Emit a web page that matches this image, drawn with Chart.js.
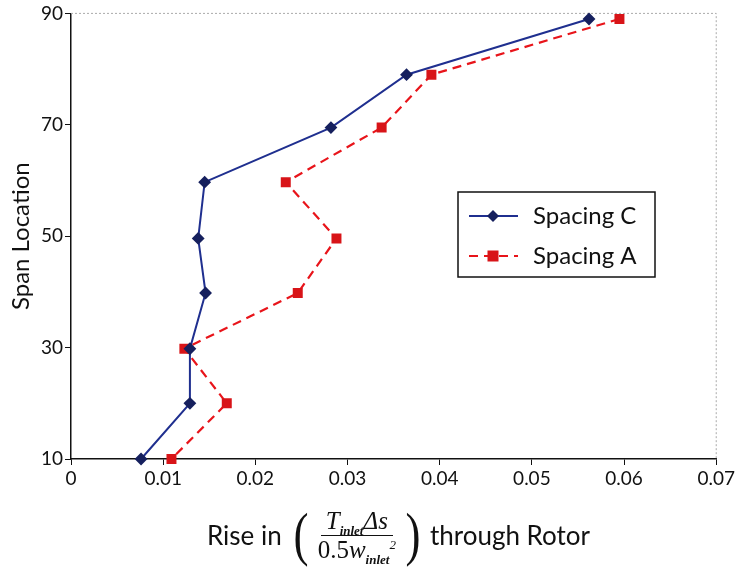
<!DOCTYPE html>
<html>
<head>
<meta charset="utf-8">
<script src="https://cdn.jsdelivr.net/npm/chart.js@4"></script>
<style>
  body { margin: 0; background: #fff; }
  #wrap { position: relative; width: 737px; height: 571px; }
  #xtitle {
    position: absolute; left: 60px; top: 506px; width: 677px;
    display: flex; justify-content: center; align-items: center;
    font-family: Lato, sans-serif; font-size: 26px; color: #111;
  }
  #xtitle .paren { font-family: 'Liberation Serif', serif; font-size: 60px; line-height: 0.95; margin: 0 1px; transform: scaleX(0.75); }
  #xtitle .frac { display: inline-flex; flex-direction: column; align-items: center; font-family: 'Liberation Serif', serif; font-style: italic; font-size: 25px; line-height: 1; margin: 0 1px; }
  #xtitle .frac .num { border-bottom: 1.5px solid #111; padding: 0 5px 2px; }
  #xtitle .frac .den { padding: 1px 5px 0; }
  #xtitle sub, #xtitle sup { font-size: 13px; line-height: 0; }
  #xtitle sub { font-weight: bold; }
</style>
</head>
<body>
<div id="wrap">
  <canvas id="c" width="737" height="571"></canvas>
  <div id="xtitle">
    <span style="margin-right:8px">Rise in</span>
    <span class="paren">(</span>
    <span class="frac">
      <span class="num">T<sub>inlet</sub>Δs</span>
      <span class="den"><span style="font-style:normal">0.5</span>w<sub>inlet</sub><sup>2</sup></span>
    </span>
    <span class="paren">)</span>
    <span style="margin-left:6px">through Rotor</span>
  </div>
</div>
<script>
// values
const spanC = [89, 79, 69.5, 59.7, 49.6, 39.8, 29.8, 20, 10];
const riseC = [0.0562, 0.0364, 0.0282, 0.0145, 0.0138, 0.0146, 0.0129, 0.0129, 0.0076];
const spanA = [89, 79, 69.5, 59.7, 49.6, 39.8, 29.8, 20, 10];
const riseA = [0.0595, 0.0391, 0.0337, 0.0233, 0.0288, 0.0246, 0.0123, 0.0169, 0.0109];
const xTicks = [0, 0.01, 0.02, 0.03, 0.04, 0.05, 0.06, 0.07];
const yTicks = [10, 30, 50, 70, 90];

Chart.defaults.font.family = 'Lato, sans-serif';
Chart.defaults.color = '#111';

const toPoints = (xs, ys) => xs.map((x, i) => ({ x: x, y: ys[i] }));

// dotted border on top and right of the plot area
const frame = {
  id: 'frame',
  beforeDatasetsDraw(chart) {
    const { ctx, chartArea: a } = chart;
    ctx.save();
    ctx.strokeStyle = '#aaa';
    ctx.lineWidth = 1;
    ctx.setLineDash([2, 2]);
    ctx.beginPath();
    ctx.moveTo(a.left, a.top);
    ctx.lineTo(a.right, a.top);
    ctx.lineTo(a.right, a.bottom);
    ctx.stroke();
    ctx.restore();
  }
};

// boxed legend inside the plot
const boxLegend = {
  id: 'boxLegend',
  afterDraw(chart) {
    const ctx = chart.ctx;
    const x = 458, y = 192, w = 197, h = 85;
    ctx.save();
    ctx.fillStyle = '#fff';
    ctx.fillRect(x, y, w, h);
    ctx.strokeStyle = '#111';
    ctx.lineWidth = 1.5;
    ctx.strokeRect(x, y, w, h);
    chart.data.datasets.forEach((ds, i) => {
      const ly = y + 24 + i * 40;
      ctx.strokeStyle = ds.borderColor;
      ctx.lineWidth = ds.borderWidth;
      ctx.setLineDash(ds.borderDash || []);
      ctx.beginPath();
      ctx.moveTo(469, ly);
      ctx.lineTo(518, ly);
      ctx.stroke();
      ctx.setLineDash([]);
      ctx.fillStyle = ds.pointBackgroundColor;
      const r = ds.pointRadius;
      if (ds.pointStyle === 'rect') {
        ctx.fillRect(493 - r, ly - r, 2 * r, 2 * r);
      } else {
        ctx.beginPath();
        ctx.moveTo(493, ly - r - 1);
        ctx.lineTo(493 + r + 1, ly);
        ctx.lineTo(493, ly + r + 1);
        ctx.lineTo(493 - r - 1, ly);
        ctx.closePath();
        ctx.fill();
      }
      ctx.fillStyle = '#111';
      ctx.font = '24px Lato, sans-serif';
      ctx.textBaseline = 'middle';
      ctx.fillText(ds.label, 533, ly);
    });
    ctx.restore();
  }
};

new Chart(document.getElementById('c'), {
  type: 'scatter',
  data: {
    datasets: [
      {
        label: 'Spacing C',
        data: toPoints(riseC, spanC),
        showLine: true,
        borderColor: '#1f2f8f',
        borderWidth: 2,
        pointStyle: 'rectRot',
        pointRadius: 5,
        pointBackgroundColor: '#16205e',
        pointBorderColor: '#16205e',
        clip: false
      },
      {
        label: 'Spacing A',
        data: toPoints(riseA, spanA),
        showLine: true,
        borderColor: '#e8141a',
        borderWidth: 2.2,
        borderDash: [9, 6],
        pointStyle: 'rect',
        pointRadius: 5.5,
        pointBackgroundColor: '#d81418',
        pointBorderColor: '#d81418',
        clip: false
      }
    ]
  },
  options: {
    responsive: false,
    animation: false,
    layout: { padding: { top: 11, right: 16, left: 0, bottom: 0 } },
    plugins: { legend: { display: false }, tooltip: { enabled: false } },
    scales: {
      x: {
        type: 'linear',
        min: 0,
        max: 0.07,
        afterBuildTicks: s => { s.ticks = xTicks.map(v => ({ value: v })); },
        afterFit: s => { s.height = 112; },
        ticks: {
          font: { size: 19 },
          color: '#111',
          padding: 2,
          maxRotation: 0,
          callback: v => (v === 0 ? '0' : v.toFixed(2))
        },
        grid: { drawOnChartArea: false, tickLength: 6, color: '#111' },
        border: { color: '#111', width: 1.5 }
      },
      y: {
        type: 'linear',
        min: 10,
        max: 90,
        afterBuildTicks: s => { s.ticks = yTicks.map(v => ({ value: v })); },
        afterFit: s => { s.width = 71; },
        ticks: { font: { size: 19 }, color: '#111', padding: 2 },
        grid: { drawOnChartArea: false, tickLength: 6, color: '#111' },
        border: { color: '#111', width: 1.5 },
        title: {
          display: true,
          text: 'Span Location',
          font: { size: 24 },
          color: '#111',
          padding: { top: 7, bottom: 0 }
        }
      }
    }
  },
  plugins: [frame, boxLegend]
});
</script>
</body>
</html>
